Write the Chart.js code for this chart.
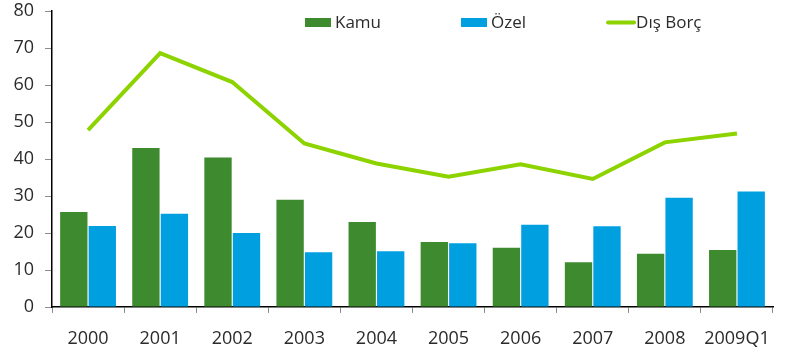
<!DOCTYPE html>
<html>
<head>
<meta charset="utf-8">
<script src="https://cdn.jsdelivr.net/npm/chart.js@4/dist/chart.umd.min.js"></script>
<style>
  html, body { margin: 0; padding: 0; background: #fff; }
  #wrap { width: 792px; height: 356px; }
</style>
</head>
<body>
<div id="wrap"><canvas id="debt-chart"></canvas></div>
<script>
const years = ['2000', '2001', '2002', '2003', '2004', '2005', '2006', '2007', '2008', '2009Q1'];
const kamu = [25.7, 43.0, 40.4, 29.0, 23.0, 17.6, 16.0, 12.1, 14.4, 15.4];
const ozel = [21.9, 25.2, 20.0, 14.8, 15.1, 17.2, 22.2, 21.8, 29.5, 31.2];
const disBorc = [47.8, 68.6, 60.8, 44.2, 38.8, 35.2, 38.6, 34.6, 44.5, 46.9];
const yTicks = [0, 10, 20, 30, 40, 50, 60, 70, 80];

const FONT = '"Open Sans", "Noto Sans", sans-serif';
const TEXT = '#2b2b2b';

// legend sits inside the plot area, so it is drawn by hand instead of taking layout space
const inlineLegend = {
    id: 'inlineLegend',
    afterDraw(chart) {
        const ctx = chart.ctx;
        ctx.save();
        ctx.font = '17px ' + FONT;
        ctx.textBaseline = 'middle';
        let x = 305;
        const y = 22.5;
        chart.data.datasets.forEach(ds => {
            if (ds.type === 'line') {
                ctx.strokeStyle = ds.borderColor;
                ctx.lineWidth = 4;
                ctx.lineCap = 'round';
                ctx.beginPath();
                ctx.moveTo(x + 2, y);
                ctx.lineTo(x + 28, y);
                ctx.stroke();
            } else {
                ctx.fillStyle = ds.backgroundColor;
                ctx.fillRect(x, y - 4.5, 26, 9);
            }
            ctx.fillStyle = TEXT;
            ctx.fillText(ds.label, x + 30, y + 1);
            x += 30 + ctx.measureText(ds.label).width + 80;
        });
        ctx.restore();
    }
};

new Chart(document.getElementById('debt-chart'), {
    data: {
        labels: years,
        datasets: [
            {
                type: 'bar',
                label: 'Kamu',
                data: kamu,
                backgroundColor: '#3d8a2f',
                categoryPercentage: 0.79,
                barPercentage: 0.96,
                order: 1
            },
            {
                type: 'bar',
                label: 'Özel',
                data: ozel,
                backgroundColor: '#00a0e0',
                categoryPercentage: 0.79,
                barPercentage: 0.96,
                order: 1
            },
            {
                type: 'line',
                label: 'Dış Borç',
                data: disBorc,
                borderColor: '#8cd300',
                backgroundColor: '#8cd300',
                borderWidth: 4,
                pointRadius: 0,
                tension: 0,
                fill: false,
                order: 0
            }
        ]
    },
    options: {
        responsive: true,
        maintainAspectRatio: false,
        animation: false,
        layout: { padding: { top: 11, right: 19, left: 0, bottom: 0 } },
        plugins: {
            legend: { display: false },
            tooltip: { enabled: false }
        },
        scales: {
            x: {
                offset: true,
                grid: {
                    display: true,
                    offset: true,
                    drawOnChartArea: false,
                    drawTicks: true,
                    tickLength: 6,
                    color: '#8a8a8a'
                },
                border: { display: true, color: '#000', width: 1.5 },
                ticks: {
                    color: TEXT,
                    font: { family: FONT, size: 18 },
                    padding: 15,
                    maxRotation: 0,
                    autoSkip: false
                },
                afterFit(scale) { scale.height = 49; scale.paddingLeft = 0; scale.paddingRight = 0; }
            },
            y: {
                min: 0,
                max: 80,
                afterBuildTicks(scale) { scale.ticks = yTicks.map(v => ({ value: v })); },
                grid: {
                    display: true,
                    drawOnChartArea: false,
                    drawTicks: true,
                    tickLength: 7,
                    color: '#8a8a8a'
                },
                border: { display: true, color: '#000', width: 1.5 },
                ticks: {
                    color: TEXT,
                    font: { family: FONT, size: 18 },
                    padding: 11
                },
                afterFit(scale) { scale.width = 52; scale.paddingTop = 0; scale.paddingBottom = 0; }
            }
        }
    },
    plugins: [inlineLegend]
});
</script>
</body>
</html>
